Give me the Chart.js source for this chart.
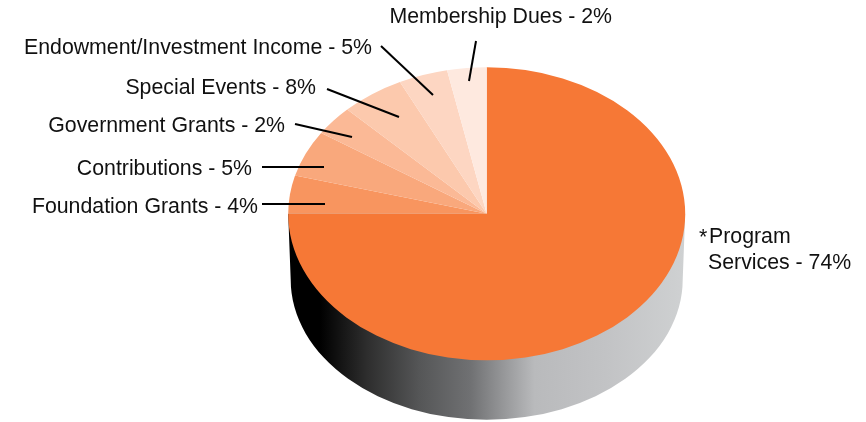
<!DOCTYPE html>
<html>
<head>
<meta charset="utf-8">
<title>Revenue pie</title>
<script src="https://cdn.jsdelivr.net/npm/chart.js@4.4.0/dist/chart.umd.js"></script>
<style>
    html, body { margin: 0; padding: 0; background: #fff; }
    canvas { display: block; }
</style>
</head>
<body>
<canvas id="pie" width="866" height="422"></canvas>
<script>
// clockwise from 12 o'clock
const categories = ['Program Services', 'Foundation Grants', 'Contributions', 'Government Grants',
    'Special Events', 'Endowment/Investment Income', 'Membership Dues'];
// percentages as printed in the labels
const printedPercents = [74, 4, 5, 2, 8, 5, 2];
// slice sizes as measured on the drawing, they don't follow the printed numbers exactly
const sliceSizes = [75, 4.2, 5.1, 3.3, 5.2, 4, 3.2];
const sliceColors = ['#f67836', '#f8955f', '#f9a87c', '#fbb996', '#fcc9ad', '#fdd6c2', '#fee9df'];

// fake 3D: squash the pie and put a shaded wall under it
const SQUASH = 0.738;
const WALL = { drop: 66, rx: 196, ry: 140 };
const WALL_STOPS = [[0, '#000'], [0.08, '#000'], [0.2, '#2e2e2e'], [0.33, '#555657'], [0.46, '#707173'],
    [0.54, '#959698'], [0.62, '#b9babc'], [0.8, '#c2c3c5'], [1, '#cfd1d2']];

// label text anchors and leader lines, kept apart from the data
const callouts = [
    { i: 1, x: 258, y: 213, line: [262, 204, 325, 204] },
    { i: 2, x: 252, y: 175, line: [262, 167, 324, 167] },
    { i: 3, x: 285, y: 132, line: [295, 124, 352, 137] },
    { i: 4, x: 316, y: 94, line: [327, 89, 399, 117] },
    { i: 5, x: 372, y: 54, line: [381, 46, 433, 95] },
    { i: 6, x: 612, y: 23, line: [476, 41, 469, 81] }
];

const FONT = '21.3px "Liberation Sans", Arial, sans-serif';
const INK = '#111';

const fakeDepth = {
    id: 'fakeDepth',
    beforeDatasetsDraw(chart) {
        const { ctx } = chart;
        const arc = chart.getDatasetMeta(0).data[0];
        const cx = arc.x, cy = arc.y, r = arc.outerRadius;

        // side wall
        const grad = ctx.createLinearGradient(cx - r, 0, cx + r, 0);
        WALL_STOPS.forEach(s => grad.addColorStop(s[0], s[1]));
        ctx.save();
        ctx.beginPath();
        ctx.moveTo(cx - r, cy);
        ctx.ellipse(cx, cy + WALL.drop, WALL.rx, WALL.ry, 0, Math.PI, 0, true);
        ctx.lineTo(cx + r, cy);
        ctx.closePath();
        ctx.fillStyle = grad;
        ctx.fill();
        ctx.restore();

        // top face, restored in afterDatasetsDraw
        ctx.save();
        ctx.translate(cx, cy);
        ctx.scale(1, SQUASH);
        ctx.translate(-cx, -cy);
    },
    afterDatasetsDraw(chart) {
        chart.ctx.restore();
    },
    afterDraw(chart) {
        const { ctx } = chart;
        ctx.save();
        ctx.font = FONT;
        ctx.fillStyle = INK;
        ctx.strokeStyle = '#000';
        ctx.lineWidth = 2;
        ctx.textBaseline = 'alphabetic';

        ctx.textAlign = 'right';
        callouts.forEach(c => {
            ctx.fillText(categories[c.i] + ' - ' + printedPercents[c.i] + '%', c.x, c.y);
            ctx.beginPath();
            ctx.moveTo(c.line[0], c.line[1]);
            ctx.lineTo(c.line[2], c.line[3]);
            ctx.stroke();
        });

        // the big slice has a two line label with a footnote star
        const words = categories[0].split(' ');
        ctx.textAlign = 'left';
        ctx.fillText('*', 699, 244);
        ctx.fillText(words[0], 709, 243);
        ctx.fillText(words[1] + ' - ' + printedPercents[0] + '%', 708, 269);
        ctx.restore();
    }
};

new Chart(document.getElementById('pie'), {
    type: 'pie',
    data: {
        labels: categories,
        datasets: [{
            data: sliceSizes,
            backgroundColor: sliceColors,
            borderWidth: 0,
            radius: 198.5
        }]
    },
    options: {
        responsive: false,
        animation: false,
        layout: { padding: { left: 107.4, top: 5.6 } },
        plugins: {
            legend: { display: false },
            tooltip: { enabled: false }
        }
    },
    plugins: [fakeDepth]
});
</script>
</body>
</html>
